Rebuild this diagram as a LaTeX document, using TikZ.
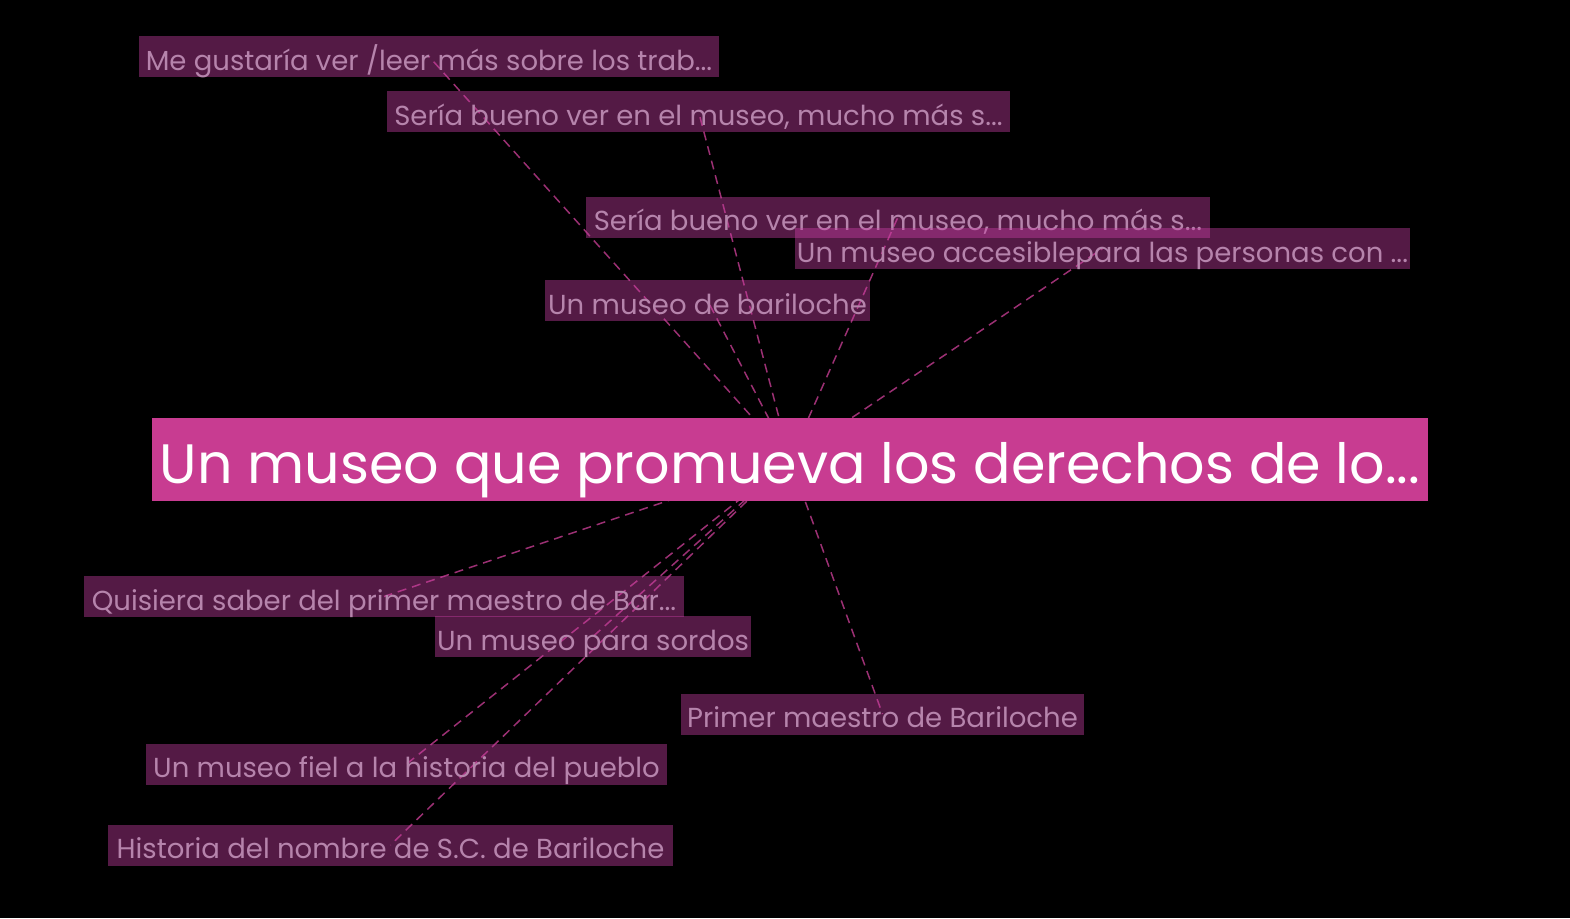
\documentclass[tikz,border=0pt]{standalone}
\usepackage{fontspec}
\setmainfont{Poppins}
\usepackage{xcolor}
\usepackage{tikz}
\usetikzlibrary{positioning,backgrounds}

\definecolor{coreFill}{RGB}{200,60,145}
\definecolor{ideaFill}{RGB}{202,64,165}
\definecolor{ideaText}{RGB}{182,132,172}
\definecolor{linkColor}{RGB}{155,48,115}
\tikzset{
  idea/.style={fill=ideaFill,fill opacity=0.42,text opacity=1,text=ideaText,
    inner sep=2pt,text height=32,text depth=5,font=\fontsize{27.5}{31}\selectfont},
  core/.style={fill=coreFill,text=white,inner sep=2pt,minimum width=1276,
    text height=63,text depth=16,font=\fontsize{55.5}{62}\selectfont},
  link/.style={draw=linkColor,line width=1.5,dash pattern=on 9pt off 6pt}
}

\begin{document}
\begin{tikzpicture}[x=1pt,y=-1pt]
\useasboundingbox (0,0) rectangle (1570,918);

% central idea
\node[core] (core) at (790,459.5) {Un museo que promueva los derechos de lo...};

% comments around it
\node[idea,minimum width=580] (gustaria) at (429,56.5) {Me gustaría ver /leer más sobre los trab...};
\node[idea,minimum width=623] (seriaA) at (698.5,111.5) {Sería bueno ver en el museo, mucho más s...};
\node[idea,minimum width=624] (seriaB) at (898,217) {Sería bueno ver en el museo, mucho más s...};
\node[idea,minimum width=615] (accesible) at (1102.5,248.5) {Un museo accesiblepara las personas con ...};
\node[idea,minimum width=325] (bariloche) at (707.5,300.5) {Un museo de bariloche};
\node[idea,minimum width=600] (quisiera) at (384,596.5) {Quisiera saber del primer maestro de Bar...};
\node[idea,minimum width=316] (sordos) at (593,636.5) {Un museo para sordos};
\node[idea,minimum width=403] (maestro) at (882.5,714) {Primer maestro de Bariloche};
\node[idea,minimum width=521] (fiel) at (406.5,764) {Un museo fiel a la historia del pueblo};
\node[idea,minimum width=565] (nombre) at (390.5,845) {Historia del nombre de S.C. de Bariloche};

\begin{scope}[on background layer]
\fill[black] (0,0) rectangle (1570,918);
\foreach \n in {gustaria,seriaA,seriaB,accesible,bariloche,quisiera,sordos,maestro,fiel,nombre}
  \draw[link] (core.center) -- (\n.center);
\end{scope}
\end{tikzpicture}
\end{document}
